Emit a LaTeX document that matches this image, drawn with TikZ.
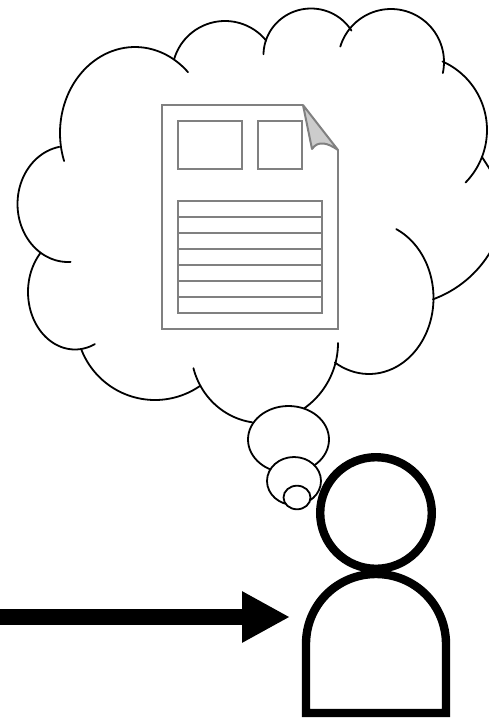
\documentclass[tikz,border=0pt]{standalone}
\usetikzlibrary{arrows.meta}
\definecolor{docgray}{HTML}{808080}
\definecolor{foldgray}{HTML}{CCCCCC}
\tikzset{
  cloudline/.style={black,line width=1.35pt,line cap=round},
  bubble/.style={draw=black,fill=white,line width=1.35pt},
  docline/.style={draw=docgray,line width=1.5pt,line join=miter},
  personline/.style={draw=black,line width=6.3pt,line join=miter},
}
% centre x, centre y, radius x, radius y, first angle, last angle
\newcommand{\cloudarc}[6]{\draw[cloudline] plot[domain=#5:#6,samples=50,smooth] ({#1+#3*cos(\x)},{#2+#4*sin(\x)});}
\begin{document}
\begin{tikzpicture}[x=0.75pt,y=-0.75pt]
\useasboundingbox (0,0) rectangle (489,718);
\clip (0,0) rectangle (489,718);
% cloud
\cloudarc{135}{133}{75}{86}{161}{315}
\cloudarc{68}{204}{50.5}{58}{260}{87}
\cloudarc{75}{292}{47}{57.5}{223}{65}
\cloudarc{155}{321}{79}{79}{159}{55}
\cloudarc{262}{349}{71}{74}{165}{98}
\cloudarc{258}{343}{80}{80}{0}{55}
\cloudarc{369}{298}{64.5}{76}{122}{-65}
\cloudarc{395}{195}{111}{111}{70}{25}
\cloudarc{412}{130}{75}{75}{44.5}{-66}
\draw[cloudline] (482,157) -- (491,171);
\cloudarc{391}{62}{53}{53}{12}{-163}
\cloudarc{311}{55}{47.5}{46.5}{-31.6}{-179}
\cloudarc{225}{74}{53}{53}{197}{321}
% thought bubbles
\path[bubble] (288.5,439.5) ellipse [x radius=40.5,y radius=33.5];
\path[bubble] (294,481) ellipse [x radius=27,y radius=24];
\path[bubble] (297,497.5) ellipse [x radius=13.5,y radius=11.8];
% document
\draw[docline] (303,105) -- (162,105) -- (162,329) -- (338,329) -- (338,150);
\draw[docline] (178,121) rectangle (242,169);
\draw[docline] (258,121) rectangle (302,169);
\draw[docline] (178,201) rectangle (322,313);
\foreach \yy in {217,233,249,265,281,297} \draw[docline] (178,\yy) -- (322,\yy);
\path[docline,fill=foldgray,line join=round] (303,105) -- (338,150) .. controls (328,143) and (318,140) .. (312,149) -- cycle;
% person
\draw[personline] (376,513) circle [radius=55.8];
\draw[personline] (306,713) -- (306,644) .. controls (306,605) and (337,574) .. (376,574) .. controls (415,574) and (446,605) .. (446,644) -- (446,713) -- cycle;
% arrow
\coordinate (arrowstart) at (-5,617);
\coordinate (arrowtip) at (290,617);
\draw[line width=12pt,-{Triangle[length=36pt,width=36pt]}] (arrowstart) -- (arrowtip);
\end{tikzpicture}
\end{document}
